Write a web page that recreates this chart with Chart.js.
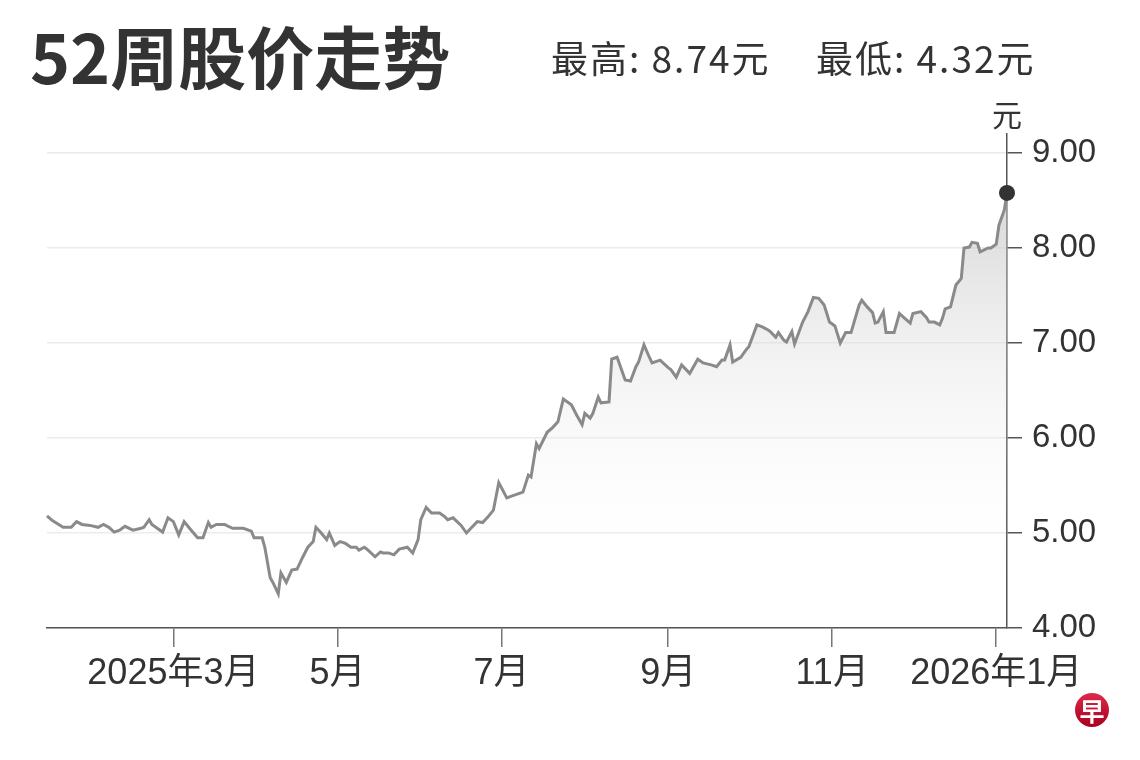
<!DOCTYPE html>
<html lang="zh">
<head>
<meta charset="utf-8">
<title>52周股价走势</title>
<script src="https://cdn.jsdelivr.net/npm/chart.js@4.4.1/dist/chart.umd.min.js"></script>
<style>
  html, body { margin: 0; padding: 0; background: #fff; }
  #wrap { position: relative; width: 1140px; height: 760px; }
</style>
</head>
<body>
<div id="wrap"><canvas id="price-chart" width="1140" height="760"></canvas></div>
<script>
// day of year (2025-01-01 = 0), closing price in 元
const days = [
    12, 14, 18, 21, 23, 25, 28, 31, 33, 35, 37, 39, 41, 44, 47, 48, 50, 51, 55, 57,
    59, 61, 63, 65, 68, 70, 72, 73, 75, 78, 81, 85, 88, 89, 92, 93, 95, 96, 98, 99,
    101, 103, 105, 107, 109, 111, 112, 114, 116, 117, 119, 121, 123, 125, 127, 128, 130, 131, 134, 136,
    137, 139, 141, 143, 146, 148, 150, 151, 153, 155, 158, 160, 161, 163, 166, 168, 170, 172, 174, 176,
    178, 180, 183, 185, 189, 191, 192, 194, 195, 198, 200, 202, 204, 207, 209, 211, 212, 214, 215, 217,
    218, 221, 222, 224, 225, 227, 229, 231, 232, 234, 236, 237, 240, 243, 244, 246, 248, 251, 254, 256,
    259, 261, 263, 264, 266, 267, 270, 272, 273, 276, 278, 280, 281, 283, 284, 286, 287, 289, 290, 293,
    295, 297, 299, 301, 303, 305, 307, 309, 311, 314, 315, 317, 319, 320, 321, 323, 324, 327, 329, 331,
    333, 334, 337, 339, 340, 342, 344, 345, 346, 348, 350, 352, 353, 355, 356, 358, 359, 362, 363, 365,
    366, 368, 369
];
const prices = [
    5.18, 5.13, 5.06, 5.06, 5.12, 5.09, 5.08, 5.06, 5.09, 5.06, 5.01, 5.03, 5.07, 5.03, 5.05, 5.06, 5.14, 5.09, 5.01, 5.16,
    5.12, 4.98, 5.12, 5.05, 4.95, 4.95, 5.11, 5.06, 5.09, 5.09, 5.05, 5.05, 5.02, 4.95, 4.95, 4.85, 4.53, 4.48, 4.36, 4.58,
    4.48, 4.61, 4.62, 4.74, 4.85, 4.91, 5.06, 5.00, 4.93, 5.00, 4.87, 4.91, 4.89, 4.85, 4.85, 4.82, 4.85, 4.83, 4.75, 4.80,
    4.79, 4.79, 4.77, 4.83, 4.85, 4.79, 4.93, 5.14, 5.27, 5.21, 5.21, 5.17, 5.14, 5.16, 5.08, 5.00, 5.06, 5.12, 5.11, 5.17,
    5.24, 5.53, 5.37, 5.39, 5.43, 5.61, 5.59, 5.94, 5.89, 6.06, 6.11, 6.17, 6.41, 6.35, 6.24, 6.14, 6.26, 6.21, 6.26, 6.43,
    6.37, 6.38, 6.83, 6.85, 6.77, 6.61, 6.60, 6.75, 6.80, 6.98, 6.85, 6.79, 6.82, 6.74, 6.72, 6.64, 6.77, 6.68, 6.83, 6.79,
    6.77, 6.75, 6.82, 6.82, 6.98, 6.80, 6.85, 6.93, 6.96, 7.19, 7.17, 7.14, 7.12, 7.06, 7.11, 7.03, 7.01, 7.12, 6.99, 7.22,
    7.33, 7.48, 7.47, 7.40, 7.22, 7.18, 7.00, 7.11, 7.11, 7.40, 7.45, 7.38, 7.32, 7.21, 7.22, 7.33, 7.11, 7.11, 7.31, 7.26,
    7.21, 7.31, 7.33, 7.27, 7.22, 7.22, 7.19, 7.26, 7.36, 7.38, 7.61, 7.68, 8.00, 8.01, 8.06, 8.05, 7.96, 8.00, 8.00, 8.04,
    8.24, 8.40, 8.58
];
const monthDays = [59, 120, 181, 243, 304, 365];
const monthLabels = ["2025年3月", "5月", "7月", "9月", "11月", "2026年1月"];
const yTicks = [4, 5, 6, 7, 8, 9];
const yMin = 4;
const yMax = 9.2;

const TITLE = "52周股价走势";
const HIGH_LOW = ["最高: 8.74元", "最低: 4.32元"];
const UNIT = "元";

const FONT = '"Liberation Sans", "Noto Sans CJK SC", sans-serif';
const CJK = '"Noto Sans CJK SC", "Liberation Sans", sans-serif';

const headerPlugin = {
    id: "header",
    afterDraw(chart) {
        const ctx = chart.ctx;
        ctx.save();
        ctx.fillStyle = "#333";
        ctx.textBaseline = "alphabetic";
        ctx.textAlign = "left";
        ctx.font = `bold 68px ${CJK}`;
        ctx.fillText(TITLE, 30, 84);
        ctx.font = `37px ${CJK}`;
        ctx.letterSpacing = "2px";
        ctx.fillText(HIGH_LOW[0], 551, 73);
        ctx.fillText(HIGH_LOW[1], 816, 73);
        ctx.letterSpacing = "0px";
        // unit above the price axis
        ctx.textAlign = "center";
        ctx.font = `30px ${CJK}`;
        ctx.fillText(UNIT, chart.chartArea.right, 126);
        // logo
        const g = ctx.createLinearGradient(0, 693, 0, 727);
        g.addColorStop(0, "#e0284a");
        g.addColorStop(1, "#a8001f");
        ctx.beginPath();
        ctx.arc(1092, 710, 17, 0, Math.PI * 2);
        ctx.fillStyle = g;
        ctx.fill();
        ctx.fillStyle = "#fff";
        ctx.font = `bold 25px ${CJK}`;
        ctx.textBaseline = "middle";
        ctx.fillText("早", 1092, 711);
        ctx.restore();
    }
};

function areaFill(context) {
    const area = context.chart.chartArea;
    if (!area) {
        return "rgba(0,0,0,0)";
    }
    const g = context.chart.ctx.createLinearGradient(0, area.top, 0, area.bottom);
    g.addColorStop(0, "rgba(185, 185, 185, 0.75)");
    g.addColorStop(0.9, "rgba(255, 255, 255, 0)");
    return g;
}

const last = prices.length - 1;
const canvas = document.getElementById("price-chart");
new Chart(canvas, {
    type: "line",
    data: {
        datasets: [{
            data: days.map((d, i) => ({ x: d, y: prices[i] })),
            borderColor: "rgb(138, 138, 138)",
            borderWidth: 3,
            backgroundColor: areaFill,
            fill: "start",
            tension: 0,
            clip: false,
            pointRadius: ctx => (ctx.dataIndex === last ? 8 : 0),
            pointBackgroundColor: "#333",
            pointBorderWidth: 0,
            pointHoverRadius: 0
        }]
    },
    options: {
        responsive: false,
        animation: false,
        devicePixelRatio: 1,
        layout: { padding: { left: 47, top: 134, right: 0, bottom: 0 } },
        plugins: {
            legend: { display: false },
            title: { display: false },
            tooltip: { enabled: false }
        },
        scales: {
            x: {
                type: "linear",
                min: days[0],
                max: days[last],
                afterBuildTicks: s => { s.ticks = monthDays.map(v => ({ value: v })); },
                afterFit: s => { s.height = 132; },
                grid: {
                    drawOnChartArea: false,
                    tickLength: 19,
                    tickColor: "#777",
                    lineWidth: 1.5
                },
                border: { color: "#555", width: 1.5 },
                ticks: {
                    autoSkip: false,
                    maxRotation: 0,
                    padding: 5,
                    color: "#333",
                    font: { family: FONT, size: 36 },
                    callback: v => monthLabels[monthDays.indexOf(v)]
                }
            },
            y: {
                position: "right",
                min: yMin,
                max: yMax,
                afterBuildTicks: s => { s.ticks = yTicks.map(v => ({ value: v })); },
                afterFit: s => { s.width = 133; },
                grid: {
                    color: "#ebebeb",
                    lineWidth: 1.5,
                    tickLength: 15,
                    tickColor: "#555"
                },
                border: { color: "#555", width: 1.5 },
                ticks: {
                    padding: 10,
                    color: "#333",
                    font: { family: FONT, size: 33 },
                    callback: v => v.toFixed(2)
                }
            }
        }
    },
    plugins: [headerPlugin]
});
</script>
</body>
</html>
